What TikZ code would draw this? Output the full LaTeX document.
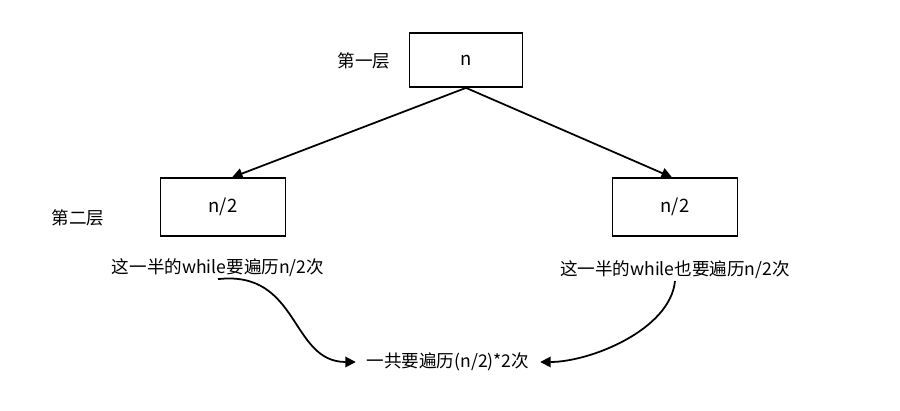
\documentclass[tikz,border=0pt]{standalone}
\usepackage{fontspec}
\setmainfont{Noto Sans CJK SC}
\usetikzlibrary{arrows.meta,calc}
\begin{document}
\begin{tikzpicture}[x=0.02cm,y=-0.02cm,
  box/.style={draw,line width=1pt,minimum width=2.5cm,minimum height=1.15cm,inner sep=0pt,font=\fontsize{10.5}{12}\selectfont},
  lbl/.style={font=\fontsize{10}{12}\selectfont,inner sep=1pt},
  arr/.style={line width=1pt,-{Triangle[length=6pt,width=6pt]}}]
\useasboundingbox[fill=white] (0,0) rectangle (900,411);
\node[box,minimum width=2.26cm,minimum height=1.08cm] (top) at (466,60) {n};
\node[box] (l) at (223,207) {n/2};
\node[box] (r) at (675,207) {n/2};
\node[lbl] (t1) at (364,61) {第一层};
\node[lbl] (t2) at (78,218) {第二层};
\node[lbl] (c1) at (218,268) {这一半的while要遍历n/2次};
\node[lbl] (c2) at (675,270) {这一半的while也要遍历n/2次};
\node[lbl,inner sep=6pt] (s) at (448,362) {一共要遍历(n/2)*2次};
\draw[arr] (top.south) -- ($(l.north)+(9,0)$);
\draw[arr] (top.south) -- ($(r.north)+(-3,0)$);
\draw[arr] (c1.south) .. controls (300,270) and (290,362) .. (s.west);
\draw[arr] (c2.south) .. controls (670,330) and (590,362) .. (s.east);
\end{tikzpicture}
\end{document}
